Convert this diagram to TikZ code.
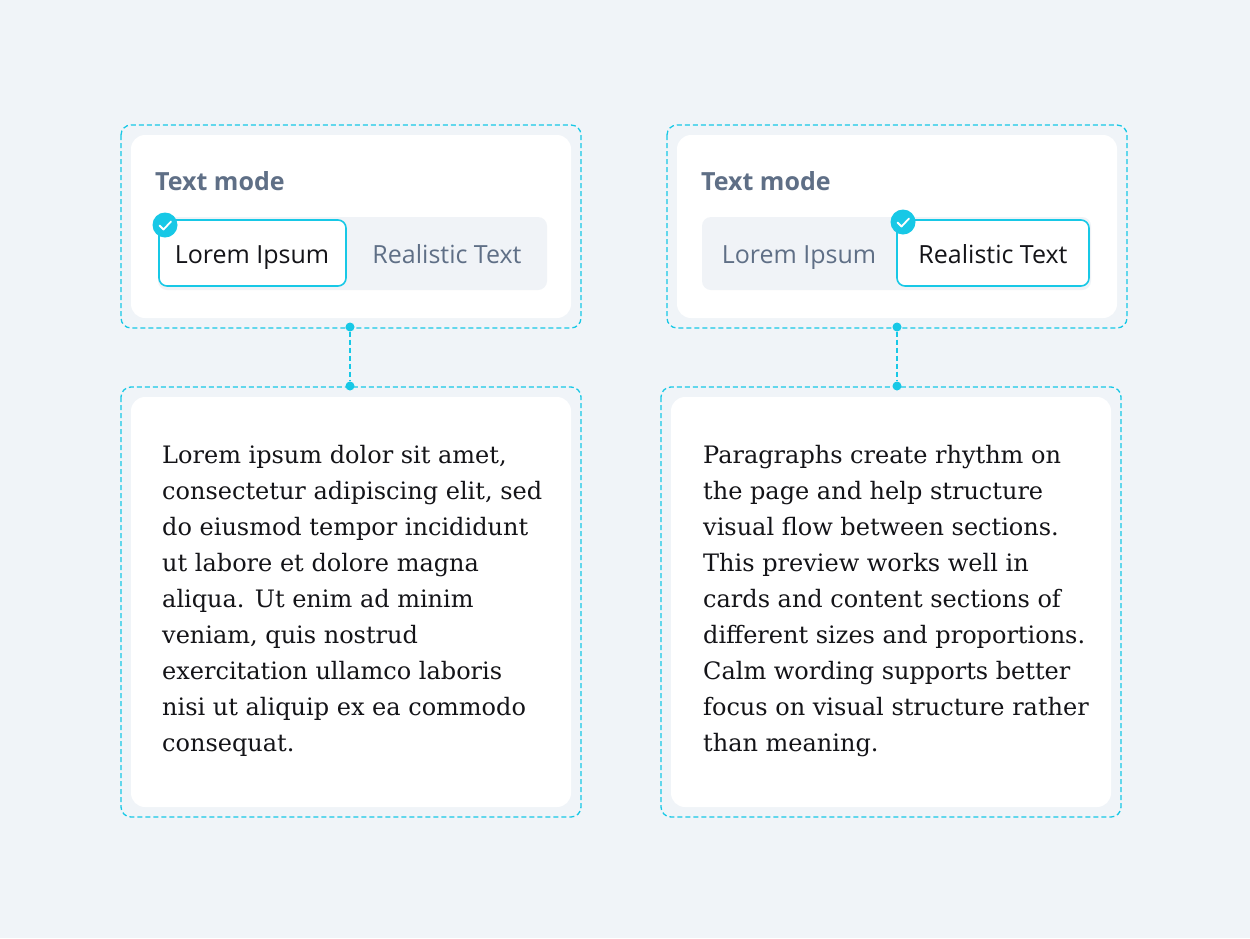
\documentclass[tikz,border=0pt]{standalone}
\usepackage{fontspec}
\setmainfont{DejaVu Serif}
\newfontfamily\uifont{Open Sans}
\begin{document}
\begin{tikzpicture}[x=1pt,y=-1pt,
  dbox/.style={draw=cyanc, line width=1.3pt, dash pattern=on 5pt off 3pt, rounded corners=10pt},
  card/.style={fill=white, rounded corners=14pt},
  seg/.style={fill=segbg, rounded corners=9pt},
  sel/.style={fill=white, draw=cyanc, line width=1.6pt, rounded corners=8pt},
  lbl/.style={font=\uifont\fontsize{25}{30}\selectfont, anchor=base west, text=titlec, inner sep=0pt},
  opt/.style={font=\uifont\fontsize{25}{30}\selectfont, anchor=base},
  body/.style={font=\fontsize{24}{28}\selectfont, anchor=base west, text=bodyc, inner sep=0pt},
  dot/.style={circle, fill=cyanc, inner sep=0pt, minimum size=9pt},
  conn/.style={draw=cyanc, line width=1.3pt, dash pattern=on 5pt off 3pt},
  chk/.style={circle, fill=cyanc, inner sep=0pt, minimum size=25pt}]
\definecolor{bg}{HTML}{F0F4F8}
\definecolor{cyanc}{HTML}{17C8E6}
\definecolor{segbg}{HTML}{F0F3F7}
\definecolor{titlec}{HTML}{5F6F86}
\definecolor{optc}{HTML}{5F6F86}
\definecolor{bodyc}{HTML}{141418}
\fill[bg] (0,0) rectangle (1250,938);
\useasboundingbox (0,0) rectangle (1250,938);
% ---------- left ----------
\draw[dbox] (121,125) rectangle (581,328);
\fill[card] (131,135) rectangle (571,318);
\node[lbl] (lt) at (155,190) {\bfseries Text mode};
\fill[seg] (158,217) rectangle (547,290);
\draw[sel] (159,220) rectangle (346,286);
\node[opt, text=bodyc] (l1) at (252,263) {Lorem Ipsum};
\node[opt, text=optc] (l2) at (447,263) {Realistic Text};
\node[chk] (lc) at (165,225) {};
\draw[white, line width=1.8pt, line cap=round, line join=round] (159.5,225.5) -- (163.5,229.5) -- (171,221.5);
\node[dot] (ld1) at (350,327) {};
\node[dot] (ld2) at (350,386) {};
\draw[conn] (ld1) -- (ld2);
\draw[dbox] (121,387) rectangle (581,817);
\fill[card] (131,397) rectangle (571,807);
\foreach \t [count=\i from 0] in {{Lorem ipsum dolor sit amet,},{consectetur adipiscing elit, sed},{do eiusmod tempor incididunt},{ut labore et dolore magna},{aliqua. Ut enim ad minim},{veniam, quis nostrud},{exercitation ullamco laboris},{nisi ut aliquip ex ea commodo},{consequat.}}
  {\node[body] (lb\i) at (162,463+36*\i) {\t};}
% ---------- right ----------
\draw[dbox] (667,125) rectangle (1127,328);
\fill[card] (677,135) rectangle (1117,318);
\node[lbl] (rt) at (701,190) {\bfseries Text mode};
\fill[seg] (702,217) rectangle (1091,290);
\draw[sel] (897,220) rectangle (1089,286);
\node[opt, text=optc] (r1) at (799,263) {Lorem Ipsum};
\node[opt, text=bodyc] (r2) at (993,263) {Realistic Text};
\node[chk] (rc) at (903,222) {};
\draw[white, line width=1.8pt, line cap=round, line join=round] (897.5,222.5) -- (901.5,226.5) -- (909,218.5);
\node[dot] (rd1) at (897,327) {};
\node[dot] (rd2) at (897,386) {};
\draw[conn] (rd1) -- (rd2);
\draw[dbox] (661,387) rectangle (1121,817);
\fill[card] (671,397) rectangle (1111,807);
\foreach \t [count=\i from 0] in {{Paragraphs create rhythm on},{the page and help structure},{visual flow between sections.},{This preview works well in},{cards and content sections of},{different sizes and proportions.},{Calm wording supports better},{focus on visual structure rather},{than meaning.}}
  {\node[body] (rb\i) at (703,463+36*\i) {\t};}
\end{tikzpicture}
\end{document}
